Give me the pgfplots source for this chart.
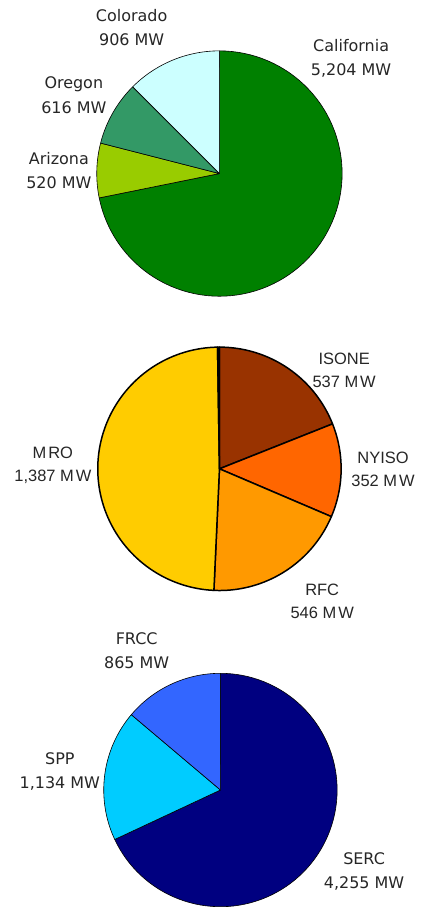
\documentclass[border=0pt]{standalone}
\usepackage{pgfplots}
\pgfplotsset{compat=1.18}
\usepackage{fontspec}
\setmainfont{DejaVu Sans}
\newfontfamily\arialf{Liberation Sans}
\definecolor{cCal}{HTML}{008000}
\definecolor{cAri}{HTML}{99CC00}
\definecolor{cOre}{HTML}{339966}
\definecolor{cCol}{HTML}{CCFFFF}
\definecolor{cISO}{HTML}{993300}
\definecolor{cNYI}{HTML}{FF6600}
\definecolor{cRFC}{HTML}{FF9900}
\definecolor{cMRO}{HTML}{FFCC00}
\definecolor{cSERC}{HTML}{000080}
\definecolor{cSPP}{HTML}{00CCFF}
\definecolor{cFRCC}{HTML}{3366FF}
% data (MW)
\def\vCal{5204}\def\vAri{520}\def\vOre{616}\def\vCol{906}
\def\vISO{537}\def\vNYI{352}\def\vRFC{546}\def\vMRO{1387}\def\vOth{7}
\def\vSERC{4255}\def\vSPP{1134}\def\vFRCC{865}
% angles (start at top, clockwise)
\pgfmathsetmacro\Ta{\vCal+\vAri+\vOre+\vCol}
\pgfmathsetmacro\Aa{90-360*(\vCal/\Ta)}
\pgfmathsetmacro\Ab{90-360*((\vCal+\vAri)/\Ta)}
\pgfmathsetmacro\Ac{90-360*((\vCal+\vAri+\vOre)/\Ta)}
\pgfmathsetmacro\Tb{\vISO+\vNYI+\vRFC+\vMRO+\vOth}
\pgfmathsetmacro\Ba{90-360*(\vISO/\Tb)}
\pgfmathsetmacro\Bb{90-360*((\vISO+\vNYI)/\Tb)}
\pgfmathsetmacro\Bc{90-360*((\vISO+\vNYI+\vRFC)/\Tb)}
\pgfmathsetmacro\Bd{90-360*((\vISO+\vNYI+\vRFC+\vMRO)/\Tb)}
\pgfmathsetmacro\Tc{\vSERC+\vSPP+\vFRCC}
\pgfmathsetmacro\Ca{90-360*(\vSERC/\Tc)}
\pgfmathsetmacro\Cb{90-360*((\vSERC+\vSPP)/\Tc)}
% slice: cx, cy, r, angle from, angle to, colour, line width
\newcommand{\pieslice}[7]{%
  \addplot[draw=black, line width=#7, line join=round, fill=#6, domain=#4:#5, samples=90, variable=\t]
    ({#1+#3*cos(\t)},{#2+#3*sin(\t)}) -- (axis cs:#1,#2) -- cycle;%
}
\tikzset{
  lbl/.style={align=center, font=\fontsize{16bp}{24.5bp}\selectfont, text=black!85, inner sep=0pt},
  lblb/.style={align=center, font=\arialf\fontsize{16.5bp}{23.5bp}\selectfont, text=black!85, inner sep=0pt},
}
\begin{document}
\begin{tikzpicture}
\begin{axis}[
  width=430bp, height=907bp, scale only axis,
  xmin=0, xmax=430, ymin=0, ymax=907,
  hide axis, clip=false,
]
\path (axis cs:0,0) rectangle (axis cs:430,907);
% Pie 1
\pieslice{220}{733}{123}{\Aa}{90}{cCal}{0.6bp}
\pieslice{220}{733}{123}{\Ab}{\Aa}{cAri}{0.6bp}
\pieslice{220}{733}{123}{\Ac}{\Ab}{cOre}{0.6bp}
\pieslice{220}{733}{123}{-270}{\Ac}{cCol}{0.6bp}
\node[lbl] at (axis cs:132,879.5) {Colorado\\906 MW};
\node[lbl] at (axis cs:352,848.5) {California\\5,204 MW};
\node[lbl] at (axis cs:74,811.5) {Oregon\\616 MW};
\node[lbl] at (axis cs:59,736) {Arizona\\520 MW};
% Pie 2
\pieslice{220}{437}{122}{\Ba}{90}{cISO}{1.5bp}
\pieslice{220}{437}{122}{\Bb}{\Ba}{cNYI}{1.5bp}
\pieslice{220}{437}{122}{\Bc}{\Bb}{cRFC}{1.5bp}
\pieslice{220}{437}{122}{\Bd}{\Bc}{cMRO}{1.5bp}
\pieslice{220}{437}{122}{-270}{\Bd}{white}{1.5bp}
\node[lblb] at (axis cs:345,535.5) {ISONE\\537 M\hspace{0.12em}W};
\node[lblb] at (axis cs:384,436.5) {NYISO\\352 M\hspace{0.12em}W};
\node[lblb] at (axis cs:323,304) {RFC\\546 M\hspace{0.12em}W};
\node[lblb] at (axis cs:53,440.5) {M\hspace{0.12em}RO\\1,387 M\hspace{0.12em}W};
% Pie 3
\pieslice{221}{115}{117}{\Ca}{90}{cSERC}{0.6bp}
\pieslice{221}{115}{117}{\Cb}{\Ca}{cSPP}{0.6bp}
\pieslice{221}{115}{117}{-270}{\Cb}{cFRCC}{0.6bp}
\node[lbl] at (axis cs:137,254.5) {FRCC\\865 MW};
\node[lbl] at (axis cs:60,133.5) {SPP\\1,134 MW};
\node[lbl] at (axis cs:365,33.5) {SERC\\4,255 MW};
\end{axis}
\end{tikzpicture}
\end{document}
